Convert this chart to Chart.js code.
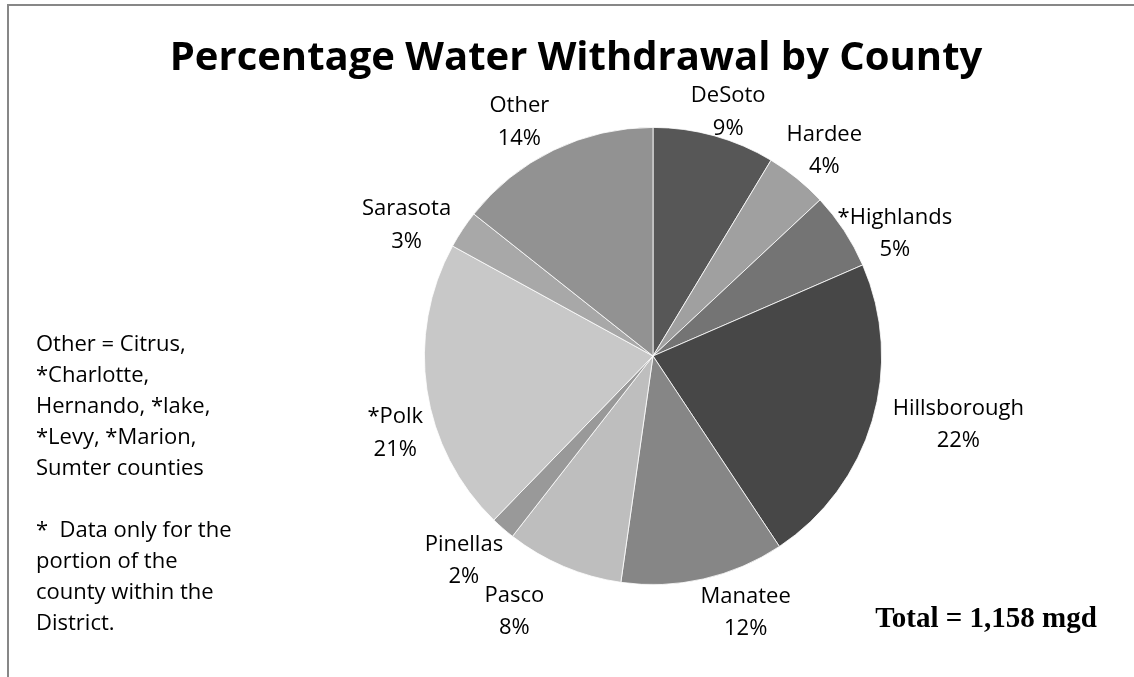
<!DOCTYPE html>
<html>
<head>
<meta charset="utf-8">
<script src="https://cdn.jsdelivr.net/npm/chart.js@4/dist/chart.umd.min.js"></script>
<style>
  html, body { margin: 0; padding: 0; background: #fff; }
  canvas { display: block; }
</style>
</head>
<body>
<canvas id="c" width="1134" height="677"></canvas>
<script>
// ---- data ----
const counties = ['DeSoto', 'Hardee', '*Highlands', 'Hillsborough', 'Manatee', 'Pasco', 'Pinellas', '*Polk', 'Sarasota', 'Other'];
const withdrawalMgd = [100, 51, 63, 257, 134, 96, 20, 240, 31, 166];
const totalMgd = 1158;
const titleText = 'Percentage Water Withdrawal by County';
const totalText = 'Total = 1,158 mgd';
const noteLines = ['Other = Citrus,', '*Charlotte,', 'Hernando, *lake,', '*Levy, *Marion,', 'Sumter counties', '', '*  Data only for the', 'portion of the', 'county within the', 'District.'];

// ---- styles ----
const sliceColors = ['#575757', '#a0a0a0', '#747474', '#474747', '#868686', '#bebebe', '#999999', '#c8c8c8', '#a8a8a8', '#929292'];
// label placement relative to each slice's middle angle (deg clockwise) and pie edge (px)
const labelPlacement = [
  { da: 1.5, dr: 28 }, { da: 0.6, dr: 40 }, { da: 6.2, dr: 43 }, { da: -4.1, dr: 84 },
  { da: -7.2, dr: 43 }, { da: 5.6, dr: 61 }, { da: 1.9, dr: 49 }, { da: -7.8, dr: 40 },
  { da: -5.4, dr: 51 }, { da: -3.8, dr: 42 }
];

const decor = {
  id: 'decor',
  beforeDraw(chart) {
    const ctx = chart.ctx;
    ctx.save();
    ctx.fillStyle = '#ffffff';
    ctx.fillRect(0, 0, chart.width, chart.height);
    ctx.fillStyle = '#878787';
    ctx.fillRect(7, 4, chart.width - 7, 2);
    ctx.fillRect(7, 4, 2, chart.height - 4);
    ctx.restore();
  },
  afterDraw(chart) {
    const ctx = chart.ctx;
    ctx.save();
    ctx.fillStyle = '#000';
    ctx.textBaseline = 'alphabetic';
    // title
    ctx.font = 'bold 40px "Open Sans"';
    ctx.textAlign = 'center';
    ctx.fillText(titleText, 576, 70);
    // notes
    ctx.font = '22px "Open Sans"';
    ctx.textAlign = 'left';
    noteLines.forEach((t, i) => ctx.fillText(t, 36, 351 + i * 31));
    // total
    ctx.font = 'bold 29px "Liberation Serif"';
    ctx.textAlign = 'center';
    ctx.fillText(totalText, 986, 627);
    // slice labels
    const meta = chart.getDatasetMeta(0);
    ctx.font = '22px "Open Sans"';
    ctx.textAlign = 'center';
    meta.data.forEach((arc, i) => {
      const p = arc.getProps(['x', 'y', 'startAngle', 'endAngle', 'outerRadius'], true);
      const pl = labelPlacement[i];
      const mid = (p.startAngle + p.endAngle) / 2 + pl.da * Math.PI / 180;
      const R = p.outerRadius + pl.dr;
      const cx = p.x + R * Math.cos(mid);
      const cy = p.y + R * Math.sin(mid);
      const pct = Math.round(withdrawalMgd[i] / totalMgd * 100) + '%';
      ctx.fillText(counties[i], cx, cy - 8.5);
      ctx.fillText(pct, cx, cy + 24);
    });
    ctx.restore();
  }
};

new Chart(document.getElementById('c'), {
  type: 'pie',
  data: {
    labels: counties,
    datasets: [{
      data: withdrawalMgd,
      backgroundColor: sliceColors,
      borderColor: '#ffffff',
      borderWidth: 0.8
    }]
  },
  options: {
    responsive: false,
    animation: false,
    layout: { padding: { left: 424, right: 252, top: 127, bottom: 92 } },
    plugins: { legend: { display: false }, title: { display: false }, tooltip: { enabled: false } }
  },
  plugins: [decor]
});
</script>
</body>
</html>
